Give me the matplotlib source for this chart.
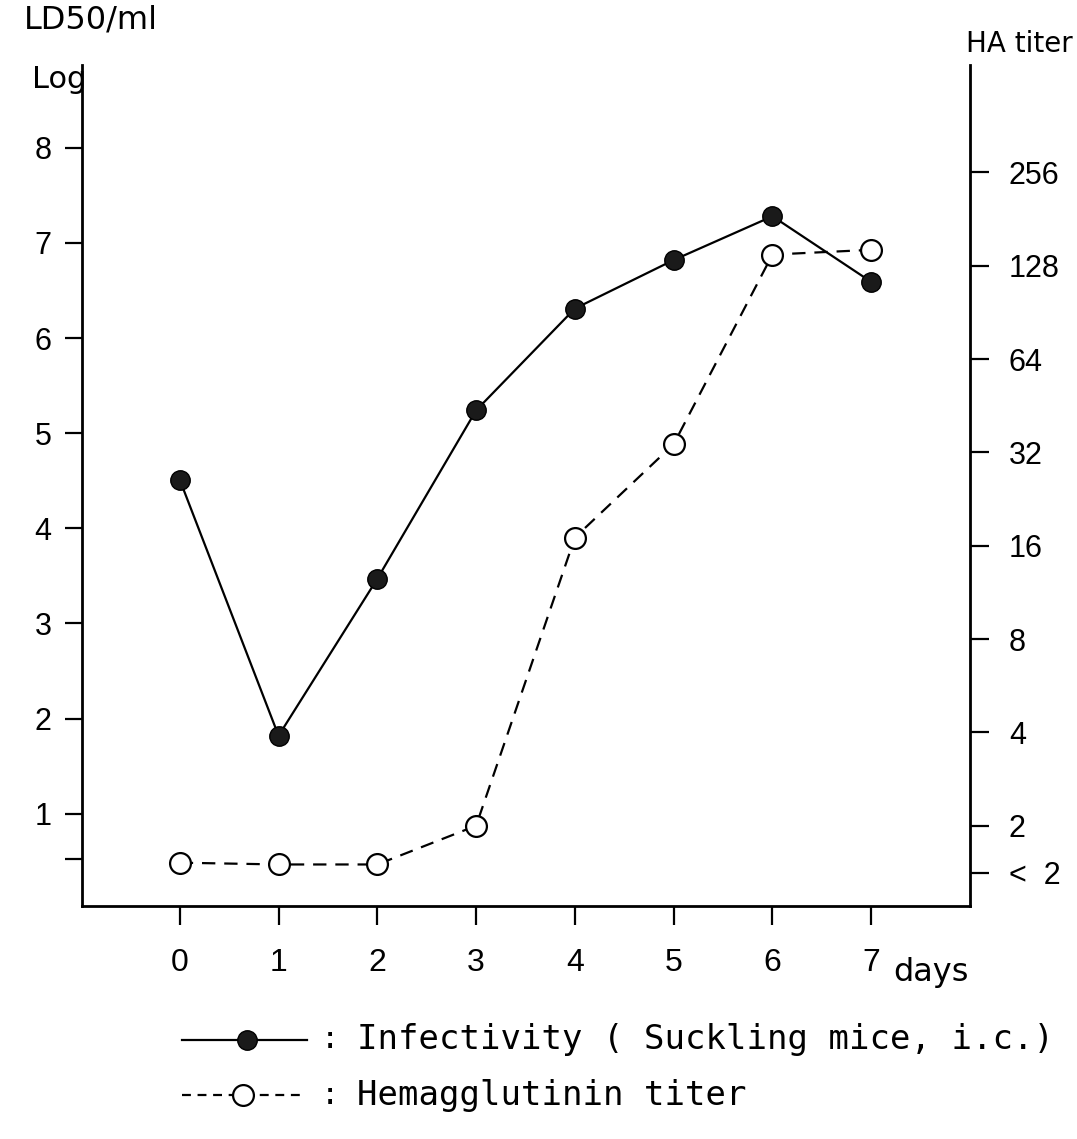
import numpy as np
import matplotlib
matplotlib.use('Agg')
import matplotlib.pyplot as plt
from matplotlib.lines import Line2D

# data
days = [0, 1, 2, 3, 4, 5, 6, 7]
infectivity = [4.51, 1.82, 3.47, 5.24, 6.31, 6.82, 7.28, 6.59]   # log LD50/ml
ha_titer = [1.52, 1.5, 1.5, 2.0, 17, 34, 139, 144]               # HA titer (<2 plotted at ~1.5)

left_ticks = [0.52, 1, 2, 3, 4, 5, 6, 7, 8]
left_labels = ['', '1', '2', '3', '4', '5', '6', '7', '8']
right_ticks = [1.41, 2, 4, 8, 16, 32, 64, 128, 256]
right_labels = ['<  2', '2', '4', '8', '16', '32', '64', '128', '256']

tick_font = 'Liberation Sans'
cap_font = 'DejaVu Sans'
mono_font = 'DejaVu Sans Mono'

W, H = 1077., 1139.
fig = plt.figure(figsize=(W / 100, H / 100), dpi=100)
ax = fig.add_axes([82 / W, 1 - 906 / H, (970 - 82) / W, (906 - 65) / H])

ax.plot(days, infectivity, '-', color='black', lw=1.6, marker='o', ms=14,
        mfc='#1a1a1a', mec='black', zorder=3)
ax.set_xlim(-0.99, 8.0)
ax.set_ylim(0.03, 8.87)
ax.set_yticks(left_ticks)
ax.set_yticklabels(left_labels, fontfamily=tick_font, fontsize=22)
ax.set_xticks(days)
ax.set_xticklabels([str(d) for d in days], fontfamily=tick_font, fontsize=23)
ax.tick_params(axis='y', direction='out', length=12, width=1.6, pad=10)
ax.tick_params(axis='x', direction='out', length=14, width=1.6, pad=16)
for s in ['left', 'bottom']:
    ax.spines[s].set_linewidth(2)
ax.spines['top'].set_visible(False)

ax2 = ax.twinx()
ax2.set_yscale('log', base=2)
ax2.plot(days, ha_titer, '--', color='black', lw=1.6, dashes=(6, 4), marker='o',
         ms=15, mfc='white', mec='black', mew=1.6, zorder=3)
ax2.set_ylim(2 ** 0.14, 2 ** 9.15)
ax2.set_yticks(right_ticks)
ax2.set_yticklabels(right_labels, fontfamily=tick_font, fontsize=22)
ax2.yaxis.set_minor_locator(matplotlib.ticker.NullLocator())
ax2.tick_params(axis='y', direction='out', length=14, width=1.6, pad=14)
ax2.spines['right'].set_linewidth(2)
for s in ['top', 'left', 'bottom']:
    ax2.spines[s].set_visible(False)

# axis captions
fig.text(24 / W, 1 - 20 / H, 'LD50/ml', fontfamily=cap_font, fontsize=23,
         va='center', ha='left')
fig.text(32 / W, 1 - 80 / H, 'Log', fontfamily=cap_font, fontsize=22,
         va='center', ha='left')
fig.text(966 / W, 1 - 44 / H, 'HA titer', fontfamily=cap_font, fontsize=20,
         va='center', ha='left')
fig.text(893 / W, 1 - 972 / H, 'days', fontfamily=cap_font, fontsize=23,
         va='center', ha='left')

# legend drawn by hand
y1 = 1 - 1040 / H
y2 = 1 - 1095 / H
fig.add_artist(Line2D([182 / W, 307 / W], [y1, y1], transform=fig.transFigure,
                      color='black', lw=1.6))
fig.add_artist(Line2D([247 / W], [y1], transform=fig.transFigure, marker='o',
                      ms=14, mfc='#1a1a1a', mec='black', lw=0))
fig.add_artist(Line2D([182 / W, 302 / W], [y2, y2], transform=fig.transFigure,
                      color='black', lw=1.6, ls='--', dashes=(4, 3)))
fig.add_artist(Line2D([243 / W], [y2], transform=fig.transFigure, marker='o',
                      ms=15, mfc='white', mec='black', mew=1.6, lw=0))
fig.text(330 / W, y1, ':', fontfamily=mono_font, fontsize=22, va='center', ha='center')
fig.text(330 / W, y2, ':', fontfamily=mono_font, fontsize=22, va='center', ha='center')
fig.text(357 / W, y1, 'Infectivity ( Suckling mice, i.c.)', fontfamily=mono_font,
         fontsize=24.5, va='center', ha='left')
fig.text(357 / W, y2, 'Hemagglutinin titer', fontfamily=mono_font,
         fontsize=24.5, va='center', ha='left')

fig.savefig('out.png', dpi=100)
